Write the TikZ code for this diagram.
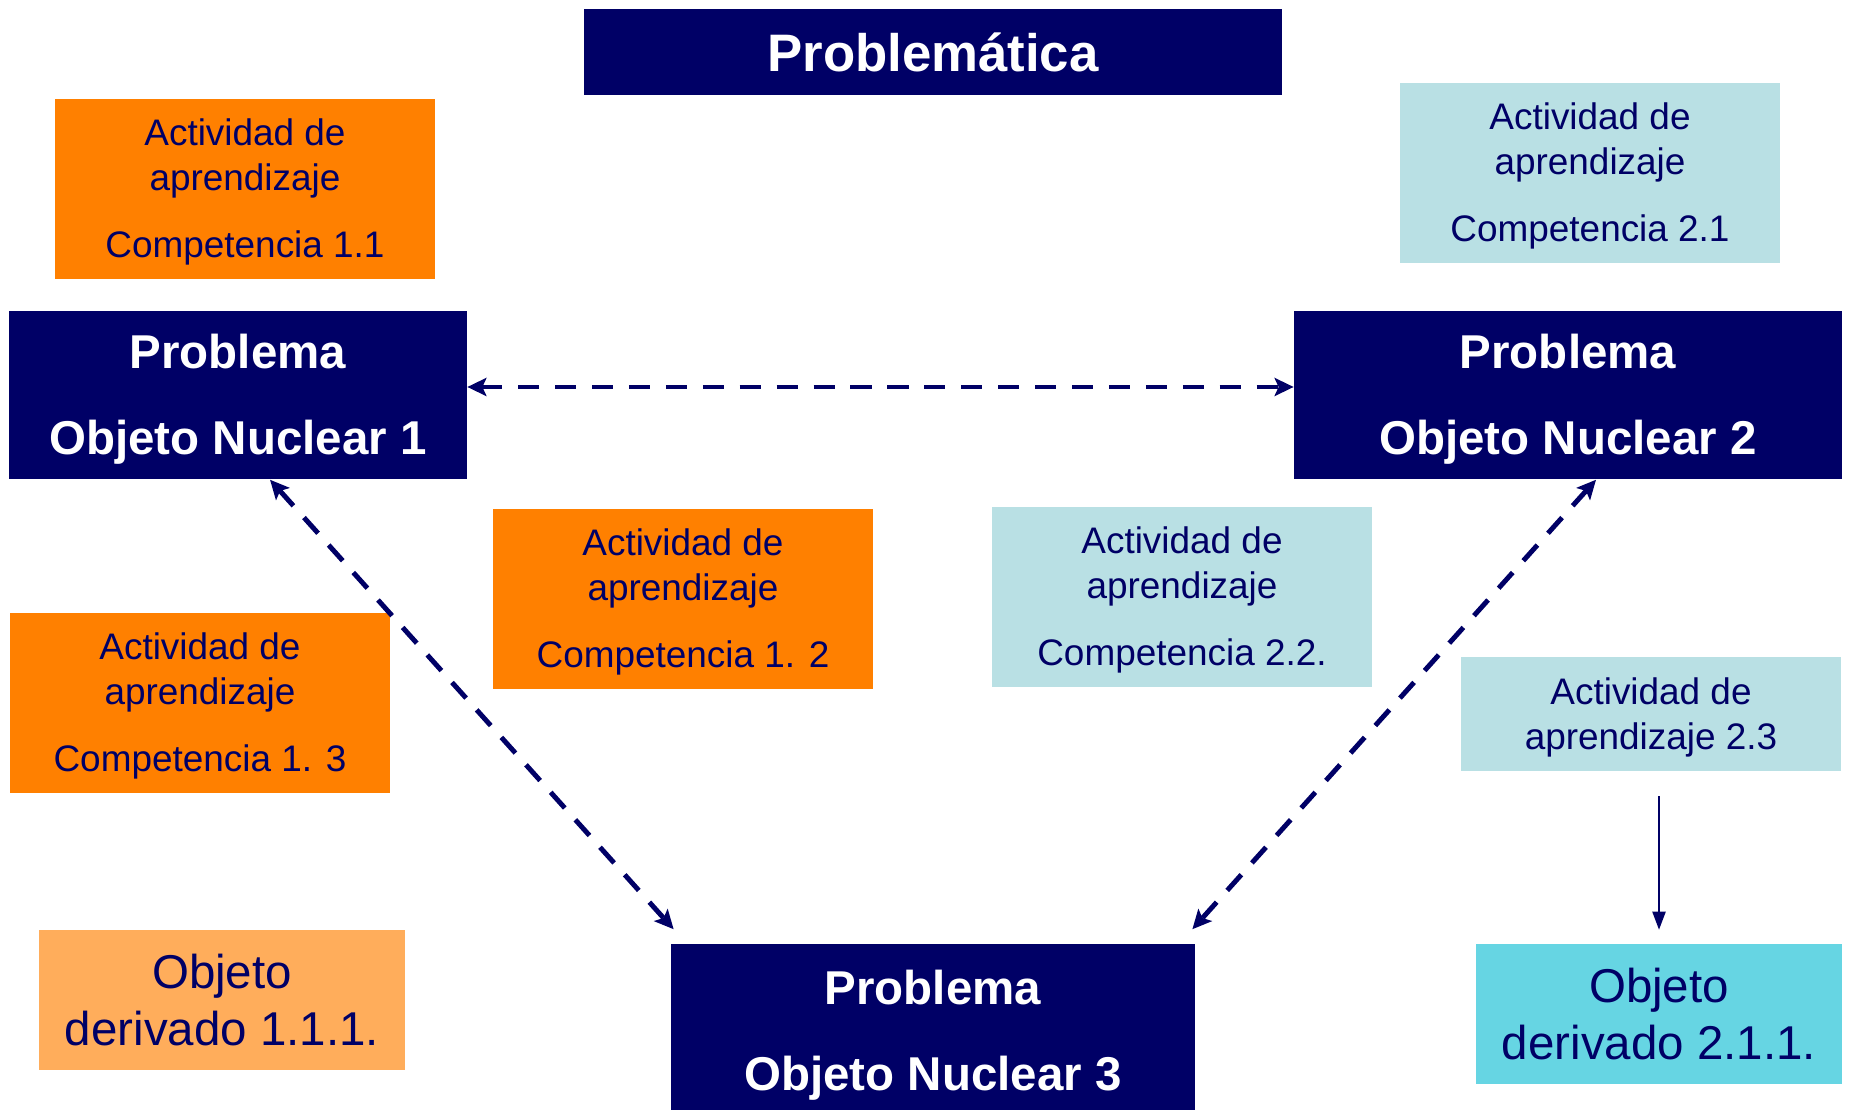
\documentclass[tikz,border=0pt]{standalone}
\usepackage{fontspec}
\setmainfont{Liberation Sans}
\usetikzlibrary{arrows.meta, positioning}
\definecolor{pnavy}{HTML}{000066}
\definecolor{porange}{HTML}{FF8000}
\definecolor{plightorange}{HTML}{FFAD5B}
\definecolor{pteal}{HTML}{B9E0E4}
\definecolor{pcyan}{HTML}{66D5E3}
\newcommand{\toppad}{\rule{0pt}{0.9em}}
\tikzset{
  titlebox/.style={fill=pnavy, text=white, minimum width=6.98cm, minimum height=0.86cm,
                   inner sep=0pt, font=\fontsize{15}{18}\selectfont\bfseries},
  nuclear/.style={fill=pnavy, text=white, minimum height=1.68cm, inner sep=0pt,
                  align=center, font=\fontsize{13.5}{16.2}\selectfont\bfseries},
  actbox/.style={text=pnavy, minimum width=3.8cm, minimum height=1.8cm, inner sep=0pt,
                 align=center, font=\fontsize{10.5}{12.8}\selectfont},
  derbox/.style={text=pnavy, minimum width=3.65cm, minimum height=1.39cm, inner sep=0pt,
                 align=center, font=\fontsize{13.5}{16.2}\selectfont},
  link/.style={{Stealth[length=1.9mm,width=1.8mm,inset=0.4mm]}-{Stealth[length=1.9mm,width=1.8mm,inset=0.4mm]},
               draw=pnavy, line width=1.4pt, dash pattern=on 6pt off 4.5pt},
  arrow/.style={-{Triangle[length=1.8mm,width=1.3mm]}, draw=pnavy, line width=0.6pt}
}

\begin{document}
\begin{tikzpicture}[x=0.01cm, y=-0.01cm]
    \useasboundingbox (0,0) rectangle (1849,1110);
    \clip (0,0) rectangle (1849,1110);

    \node[titlebox] (prob) at (933,52) {Problemática};

    % actividades, objeto 1
    \node[actbox, fill=porange] (a11) at (245,189)
      {\toppad Actividad de\\aprendizaje\\[6.3pt]Competencia 1.1};
    \node[actbox, fill=porange] (a12) at (683,599)
      {\toppad Actividad de\\aprendizaje\\[6.3pt]Competencia 1. 2};
    \node[actbox, fill=porange] (a13) at (200,703)
      {\toppad Actividad de\\aprendizaje\\[6.3pt]Competencia 1. 3};

    % actividades, objeto 2
    \node[actbox, fill=pteal] (a21) at (1590,173)
      {\toppad Actividad de\\aprendizaje\\[6.3pt]Competencia 2.1};
    \node[actbox, fill=pteal] (a22) at (1182,597)
      {\toppad Actividad de\\aprendizaje\\[6.3pt]Competencia 2.2.};
    \node[actbox, fill=pteal, minimum height=1.13cm] (a23) at (1651,714)
      {\toppad Actividad de\\aprendizaje 2.3};

    % objetos nucleares
    \node[nuclear, minimum width=4.57cm] (on1) at (238,395)
      {\toppad Problema\\[8.5pt]Objeto Nuclear 1};
    \node[nuclear, minimum width=5.47cm] (on2) at (1568,395)
      {\toppad Problema\\[8.5pt]Objeto Nuclear 2};
    \node[nuclear, minimum width=5.23cm, minimum height=1.74cm] (on3) at (933,1031)
      {\toppad Problema\\[8.5pt]Objeto Nuclear 3};

    % objetos derivados
    \node[derbox, fill=plightorange] (d111) at (222,1000) {Objeto\\derivado 1.1.1.};
    \node[derbox, fill=pcyan] (d211) at (1659,1014) {Objeto\\derivado 2.1.1.};

    \draw[link] ([yshift=0.08cm]on1.east) -- ([yshift=0.08cm]on2.west);
    \draw[link] ([xshift=0.32cm]on1.south) -- ([shift={(0.03cm,0.14cm)}]on3.north west);
    \draw[link] ([xshift=0.28cm]on2.south) -- ([shift={(-0.03cm,0.14cm)}]on3.north east);
    \draw[arrow, shorten <=0.25cm, shorten >=0.14cm] (a23.south -| d211.north) -- (d211.north);
  \end{tikzpicture}
\end{document}
